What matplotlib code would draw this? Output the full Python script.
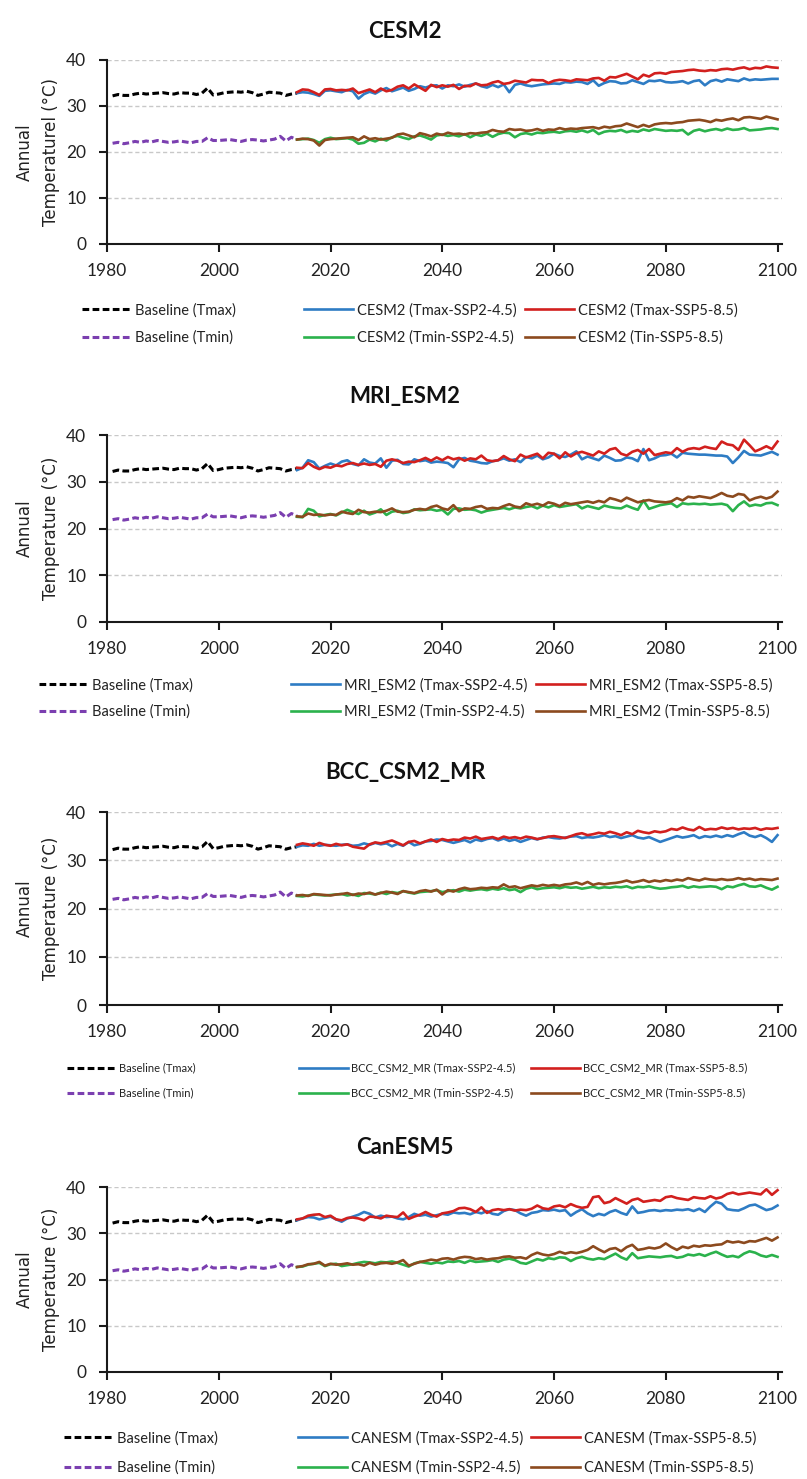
import matplotlib
matplotlib.use("Agg")
from matplotlib import pyplot as plt

plt.rcParams["font.family"] = ["Lato", "DejaVu Sans"]

# ---- data -------------------------------------------------------------
base_years = list(range(1981, 2015))
fut_years = list(range(2014, 2101))

baseline_tmax = [32.2, 32.5, 32.3, 32.3, 32.6, 32.8, 32.6, 32.7, 32.8, 32.9,
                 32.7, 32.6, 32.9, 32.8, 32.8, 32.5, 32.8, 33.9, 32.4, 32.6,
                 32.9, 33.0, 33.1, 33.0, 33.2, 32.9, 32.3, 32.6, 33.0, 32.9,
                 32.8, 32.3, 32.6, 32.8]
baseline_tmin = [21.9, 22.1, 21.8, 22.0, 22.3, 22.1, 22.4, 22.2, 22.5, 22.3,
                 22.1, 22.2, 22.4, 22.2, 22.0, 22.3, 22.3, 23.1, 22.5, 22.5,
                 22.6, 22.7, 22.5, 22.3, 22.6, 22.7, 22.6, 22.4, 22.6, 22.8,
                 23.4, 22.4, 23.2, 22.7]

# CESM2, 2014-2100
cesm_tmax_245 = [32.8, 33.0, 32.9, 32.6, 32.2, 33.3,
                 33.4, 33.2, 33.0, 33.5, 33.2, 31.6, 32.6, 33.1, 32.7, 33.4,
                 33.9, 33.2, 33.6, 34.0, 33.3, 33.7, 34.3, 34.0, 34.4, 34.5,
                 33.8, 34.5, 34.3, 34.7, 34.2, 34.6, 34.9, 34.3, 34.0, 34.6,
                 34.1, 34.7, 33.0, 34.6, 34.9, 34.5, 34.3, 34.5, 34.7, 34.8,
                 34.9, 34.8, 35.2, 35.1, 35.3, 35.2, 34.8, 35.6, 34.4, 35.0,
                 35.4, 35.3, 34.9, 35.0, 35.6, 35.2, 34.8, 35.5, 35.4, 35.6,
                 35.2, 35.1, 35.2, 35.4, 34.9, 35.4, 35.6, 34.5, 35.4, 35.7,
                 35.3, 35.8, 35.6, 35.4, 36.0, 35.6, 35.8, 35.7, 35.8, 35.9,
                 35.9]
cesm_tmax_585 = [33.0, 33.6, 33.5, 33.0, 32.4, 33.6,
                 33.7, 33.4, 33.5, 33.4, 33.8, 32.8, 33.2, 33.6, 33.0, 33.8,
                 33.2, 33.5, 34.2, 34.5, 33.8, 34.7, 34.0, 33.3, 34.6, 34.1,
                 34.5, 34.2, 34.6, 33.7, 34.4, 34.3, 34.9, 34.5, 34.6, 35.1,
                 35.4, 34.8, 35.0, 35.5, 35.3, 35.1, 35.7, 35.6, 35.6, 35.0,
                 35.5, 35.7, 35.6, 35.4, 35.8, 35.7, 35.6, 36.0, 36.1, 35.5,
                 36.3, 36.2, 36.6, 37.0, 36.4, 35.8, 36.8, 36.4, 37.1, 37.2,
                 37.0, 37.4, 37.5, 37.6, 37.8, 37.9, 37.7, 37.6, 37.8, 37.7,
                 38.0, 38.1, 37.9, 38.2, 38.4, 38.0, 38.3, 38.2, 38.6, 38.4,
                 38.3]
cesm_tmin_245 = [22.7, 22.8, 22.9, 22.6, 22.0, 22.8,
                 23.1, 22.8, 22.9, 23.0, 22.7, 21.8, 22.0, 22.7, 22.3, 22.9,
                 22.5, 23.2, 23.5, 23.1, 22.8, 23.4, 23.6, 23.2, 22.7, 23.6,
                 23.8, 23.5, 23.7, 23.4, 23.9, 23.2, 23.8, 23.5, 24.0, 23.3,
                 23.9, 24.2, 24.1, 23.2, 23.9, 24.1, 23.8, 24.2, 24.1, 24.3,
                 24.4, 24.2, 24.5, 24.6, 24.4, 24.7, 24.3, 24.8, 23.9, 24.4,
                 24.6, 24.5, 24.8, 24.3, 24.6, 24.4, 24.9, 24.6, 25.0, 24.8,
                 24.6, 24.7, 24.6, 24.8, 23.8, 24.6, 24.9, 24.5, 24.8, 25.0,
                 24.7, 25.1, 24.8, 24.9, 25.2, 24.7, 24.8, 24.9, 25.1, 25.2,
                 25.0]
cesm_tmin_585 = [22.7, 22.9, 22.8, 22.5, 21.4, 22.6,
                 22.8, 22.9, 23.0, 23.1, 23.2, 22.6, 23.4, 22.8, 23.0, 22.7,
                 22.9, 23.1, 23.8, 24.0, 23.6, 23.2, 24.1, 23.8, 23.4, 24.0,
                 23.7, 24.2, 23.9, 24.0, 23.8, 24.1, 24.0, 24.2, 24.3, 24.8,
                 24.5, 24.4, 25.0, 24.8, 24.9, 24.6, 24.7, 25.0, 24.6, 24.9,
                 24.8, 25.2, 24.9, 25.1, 25.0, 25.2, 25.3, 25.4, 25.1, 25.5,
                 25.3, 25.6, 25.7, 26.2, 25.8, 25.4, 25.9, 25.5, 26.0, 26.2,
                 26.3, 26.2, 26.4, 26.5, 26.8, 26.9, 27.0, 26.8, 26.5, 27.0,
                 26.8, 27.1, 27.3, 26.9, 27.5, 27.6, 27.4, 27.2, 27.7, 27.4,
                 27.1]

# MRI_ESM2
mri_tmax_245 = [32.5, 33.0, 34.6, 34.2, 32.8, 33.4,
                33.9, 33.5, 34.3, 34.6, 33.8, 33.5, 34.8, 34.1, 33.9, 35.0,
                33.0, 34.5, 34.7, 33.8, 33.7, 34.8, 34.4, 34.6, 34.1, 34.3,
                34.2, 34.0, 33.1, 34.8, 35.1, 34.5, 34.3, 34.0, 33.9, 34.4,
                34.6, 35.0, 34.5, 34.8, 34.2, 35.3, 35.0, 35.6, 34.8, 35.2,
                36.0, 35.5, 35.3, 35.8, 36.5, 34.8, 35.4, 35.0, 34.6, 35.6,
                35.1, 34.5, 34.6, 35.2, 35.0, 34.4, 37.0, 34.6, 35.0, 35.6,
                35.7, 36.0, 35.2, 36.2, 36.0, 35.9, 35.8, 35.8, 35.7, 35.6,
                35.6, 35.4, 34.0, 35.2, 36.6, 35.8, 35.7, 35.6, 36.0, 36.4,
                35.8]
mri_tmax_585 = [33.0, 32.9, 34.0, 33.2, 32.7, 33.2,
                33.0, 33.5, 33.3, 33.8, 34.0, 33.6, 33.9, 33.6, 33.8, 33.2,
                34.5, 34.8, 34.5, 34.0, 34.3, 34.2, 34.6, 35.1, 34.5, 35.2,
                34.6, 35.3, 34.8, 35.1, 34.5, 35.0, 34.8, 35.6, 34.6, 34.4,
                34.6, 35.5, 34.8, 34.4, 35.8, 35.2, 35.6, 36.0, 35.0, 36.2,
                36.0, 35.0, 36.3, 35.4, 36.1, 36.4, 36.0, 35.6, 36.5, 36.0,
                36.9, 37.2, 36.0, 35.6, 36.4, 36.8, 36.0, 37.0, 35.7, 36.0,
                36.3, 36.1, 37.2, 36.4, 37.0, 37.2, 37.0, 37.5, 37.2, 37.0,
                38.6, 38.0, 37.8, 36.8, 39.0, 37.8, 36.5, 37.0, 37.6, 37.0,
                38.6]
mri_tmin_245 = [22.5, 22.4, 24.2, 23.8, 22.6, 22.9,
                23.1, 22.8, 23.4, 24.0, 23.5, 23.1, 23.8, 23.0, 23.4, 24.1,
                22.9, 23.6, 23.8, 23.3, 23.5, 24.1, 23.9, 24.0, 24.1, 23.8,
                24.0, 23.0, 24.2, 24.3, 24.0, 24.1, 23.9, 23.4, 23.8, 24.0,
                24.2, 24.4, 24.1, 24.5, 24.3, 24.6, 24.8, 24.3, 24.9, 24.5,
                25.0, 24.6, 24.8, 25.0, 25.2, 24.3, 24.8, 24.5, 24.2, 24.9,
                24.6, 24.4, 24.3, 24.9, 24.4, 24.0, 26.0, 24.2, 24.6, 25.0,
                25.2, 25.4, 24.6, 25.4, 25.2, 25.3, 25.2, 25.3, 25.1, 25.2,
                25.3, 25.0, 23.7, 25.0, 25.8, 24.8, 25.1, 24.9, 25.4, 25.5,
                25.0]
mri_tmin_585 = [22.6, 22.5, 23.2, 22.9, 23.0, 22.8,
                23.0, 22.9, 23.6, 23.3, 23.1, 24.0, 23.5, 23.4, 23.6, 23.5,
                23.8, 24.3, 23.6, 23.5, 23.6, 24.0, 24.2, 24.0, 24.6, 24.9,
                24.3, 24.0, 25.0, 23.7, 24.3, 24.2, 24.6, 24.8, 24.2, 24.4,
                24.3, 24.8, 25.2, 24.7, 24.5, 25.4, 25.0, 25.3, 24.9, 25.6,
                25.3, 24.8, 25.5, 25.2, 25.4, 25.6, 25.8, 25.5, 25.9, 25.6,
                26.5, 26.2, 25.8, 26.6, 26.1, 25.6, 25.9, 26.1, 25.8, 25.7,
                25.6, 25.8, 26.5, 26.0, 26.8, 26.6, 26.9, 26.7, 26.5, 27.0,
                27.6, 27.0, 26.8, 27.4, 27.2, 26.0, 26.5, 26.8, 26.4, 26.8,
                27.9]

# BCC_CSM2_MR
bcc_tmax_245 = [32.8, 33.1, 33.0, 33.4, 33.0, 33.2,
                33.1, 33.0, 33.2, 33.3, 33.0, 33.1, 33.5, 33.2, 33.6, 33.3,
                33.5, 32.9, 33.4, 33.0, 33.8, 33.1, 33.4, 33.9, 34.0, 34.3,
                34.2, 33.9, 33.6, 33.9, 34.2, 33.7, 34.3, 34.0, 34.4, 34.6,
                34.1, 34.5, 34.0, 34.3, 33.8, 34.2, 34.6, 34.3, 34.7, 34.8,
                34.6, 34.5, 34.7, 34.9, 35.0, 34.6, 34.8, 34.7, 34.9, 35.2,
                34.8, 35.0, 34.6, 34.9, 35.2, 34.7, 34.5, 34.8, 34.3, 33.8,
                34.2, 34.6, 35.0, 34.7, 34.9, 35.2, 34.6, 35.0, 34.8, 35.1,
                34.8, 35.2, 34.9, 35.4, 35.8, 35.1, 34.8, 35.2, 34.6, 33.8,
                35.2]
bcc_tmax_585 = [33.2, 33.5, 33.3, 33.0, 33.6, 33.2,
                33.0, 33.4, 33.1, 33.3, 32.8, 32.6, 32.4, 33.3, 33.7, 33.5,
                33.8, 34.1, 33.6, 33.1, 33.8, 34.0, 33.5, 33.9, 34.3, 33.8,
                34.4, 34.1, 34.3, 34.2, 34.7, 34.5, 34.9, 34.4, 34.6, 34.8,
                34.4, 34.9, 34.6, 34.8, 34.5, 34.9, 34.7, 34.4, 34.6, 34.9,
                35.0, 34.8, 34.6, 35.0, 35.4, 35.6, 35.2, 35.4, 35.7, 35.5,
                35.9, 35.6, 35.2, 35.8, 35.4, 36.1, 35.8, 35.6, 36.0, 35.8,
                36.0, 36.5, 36.3, 36.8, 36.4, 36.2, 36.9, 36.3, 36.5, 36.4,
                36.8, 36.5, 36.7, 36.4, 36.6, 36.5, 36.7, 36.3, 36.6, 36.5,
                36.7]
bcc_tmin_245 = [22.6, 22.5, 22.7, 22.9, 22.8, 22.7,
                22.8, 22.9, 23.0, 22.7, 22.9, 22.6, 23.2, 23.1, 22.9, 23.3,
                23.0, 23.4, 23.2, 23.6, 23.3, 23.1, 23.4, 23.5, 23.6, 23.8,
                23.4, 23.6, 23.8, 23.5, 23.9, 23.7, 23.9, 24.0, 23.8, 24.1,
                23.9, 24.2, 23.8, 24.0, 23.4, 24.1, 24.4, 24.0, 24.2, 24.3,
                24.4, 24.2, 24.5, 24.3, 24.4, 24.1, 24.3, 24.5, 24.2, 24.4,
                24.3, 24.5, 24.4, 24.6, 24.2, 24.5, 24.4, 24.6, 24.3, 24.1,
                24.2, 24.4, 24.5, 24.7, 24.3, 24.6, 24.4, 24.5, 24.6, 24.5,
                24.0, 24.6, 24.4, 24.8, 25.1, 24.6, 24.5, 24.8, 24.3, 23.9,
                24.5]
bcc_tmin_585 = [22.7, 22.8, 22.6, 23.0, 22.9, 22.8,
                22.7, 22.9, 23.0, 23.2, 22.8, 23.1, 23.0, 23.3, 22.9, 23.2,
                23.5, 23.3, 23.0, 23.6, 23.4, 23.2, 23.6, 23.8, 23.5, 23.9,
                22.9, 23.8, 23.5, 24.0, 24.3, 24.0, 24.1, 24.3, 24.2, 24.4,
                24.3, 25.0, 24.4, 24.6, 24.2, 24.5, 24.8, 24.6, 24.9, 24.7,
                24.9, 24.7, 25.0, 25.1, 25.4, 25.0, 25.5, 24.9, 25.2, 25.0,
                25.2, 25.3, 25.5, 25.8, 25.4, 25.6, 25.9, 25.5, 25.8, 25.6,
                25.9, 25.7, 26.0, 25.8, 26.3, 26.0, 25.8, 26.2, 26.0, 25.9,
                26.1, 25.9, 26.0, 26.3, 26.0, 26.2, 25.9, 26.1, 26.0, 25.9,
                26.2]

# CanESM5
can_tmax_245 = [32.8, 33.2, 33.5, 33.4, 33.0, 33.3,
                33.6, 33.0, 32.5, 33.2, 33.6, 34.0, 34.6, 34.2, 33.4, 33.8,
                33.5, 33.6, 33.2, 33.0, 33.5, 34.2, 33.8, 34.0, 33.6, 33.9,
                34.2, 34.0, 34.5, 34.3, 34.4, 34.1, 34.6, 34.3, 34.8, 34.2,
                34.0, 34.8, 35.2, 35.0, 34.3, 33.8, 34.4, 34.6, 35.0, 34.9,
                35.1, 34.8, 35.0, 33.8, 34.6, 35.2, 34.3, 33.7, 34.2, 33.9,
                34.6, 35.0, 34.4, 34.0, 35.8, 34.4, 34.6, 34.9, 35.0, 34.8,
                35.0, 34.9, 35.1, 35.0, 35.2, 34.8, 35.3, 34.6, 35.8, 36.8,
                36.4, 35.2, 35.0, 34.9, 35.4, 36.0, 36.2, 35.6, 35.0, 35.3,
                36.0]
can_tmax_585 = [33.0, 33.2, 33.8, 34.0, 34.1, 33.5,
                33.8, 33.0, 32.8, 33.3, 33.4, 33.2, 32.8, 33.6, 33.5, 33.2,
                33.8, 33.6, 33.5, 34.5, 33.1, 33.6, 34.0, 34.6, 34.0, 33.6,
                34.3, 34.5, 34.8, 35.4, 35.5, 35.2, 34.6, 35.6, 34.4, 35.0,
                35.2, 35.0, 35.2, 34.9, 35.1, 35.0, 35.3, 36.0, 35.4, 35.2,
                35.8, 36.0, 35.6, 36.3, 35.8, 35.5, 35.7, 37.8, 38.0, 36.5,
                36.8, 37.6, 37.0, 36.4, 37.2, 37.5, 36.8, 37.0, 37.2, 37.0,
                37.8, 38.0, 37.6, 37.4, 37.2, 37.8, 37.6, 37.5, 38.0, 37.5,
                37.8, 38.5, 38.8, 38.4, 38.6, 38.8, 38.6, 38.4, 39.5, 38.3,
                39.3]
can_tmin_245 = [22.7, 22.8, 23.2, 23.4, 23.6, 22.9,
                23.3, 23.4, 22.9, 23.1, 23.3, 23.6, 23.8, 23.7, 23.5, 23.8,
                23.7, 23.9, 23.6, 23.2, 22.8, 23.5, 23.8, 23.6, 23.4, 23.7,
                23.5, 23.9, 23.8, 24.0, 23.6, 24.1, 23.8, 23.9, 24.0, 24.2,
                23.8, 24.3, 24.5, 24.2, 23.6, 23.4, 23.9, 24.4, 24.1, 24.6,
                24.4, 24.8, 24.7, 24.0, 24.6, 24.9, 24.5, 24.3, 24.6, 24.4,
                25.0, 25.6, 24.8, 24.3, 25.7, 24.6, 24.8, 25.0, 24.9, 24.8,
                25.0, 25.1, 24.7, 24.9, 25.4, 25.2, 25.5, 25.1, 25.6, 26.0,
                25.4, 24.9, 25.1, 24.8, 25.6, 26.1, 25.8, 25.2, 24.9, 25.3,
                24.9]
can_tmin_585 = [22.7, 22.9, 23.3, 23.4, 23.8, 23.0,
                23.4, 23.2, 23.3, 23.5, 23.2, 23.3, 23.0, 23.6, 23.2, 23.5,
                23.6, 23.4, 23.7, 24.2, 23.0, 23.4, 23.8, 24.0, 24.3, 24.1,
                24.5, 24.6, 24.3, 24.7, 24.9, 24.8, 24.4, 24.6, 24.3, 24.5,
                24.6, 24.9, 25.0, 24.7, 24.8, 24.5, 25.3, 25.8, 25.4, 25.2,
                25.5, 26.0, 25.6, 25.9, 25.7, 26.0, 26.4, 27.2, 26.5, 25.9,
                26.6, 26.8, 26.1, 27.0, 27.5, 26.4, 26.6, 26.9, 26.7, 27.0,
                27.8, 27.0, 26.4, 27.1, 26.8, 27.3, 27.1, 27.4, 27.3, 27.5,
                27.6, 28.3, 28.0, 28.2, 27.9, 28.3, 28.2, 28.6, 29.0, 28.4,
                29.1]

panel_titles = ["CESM2", "MRI_ESM2", "BCC_CSM2_MR", "CanESM5"]
legend_names = ["CESM2", "MRI_ESM2", "BCC_CSM2_MR", "CANESM"]
ylabels = ["Annual\nTemperaturel (°C)", "Annual\nTemperature (°C)",
           "Annual\nTemperature (°C)", "Annual\nTemperature (°C)"]
yticks = [0, 10, 20, 30, 40]
xticks = [1980, 2000, 2020, 2040, 2060, 2080, 2100]

series = [
    (cesm_tmax_245, cesm_tmax_585, cesm_tmin_245, cesm_tmin_585),
    (mri_tmax_245, mri_tmax_585, mri_tmin_245, mri_tmin_585),
    (bcc_tmax_245, bcc_tmax_585, bcc_tmin_245, bcc_tmin_585),
    (can_tmax_245, can_tmax_585, can_tmin_245, can_tmin_585),
]
tmin585_tags = ["Tin-SSP5-8.5", "Tmin-SSP5-8.5", "Tmin-SSP5-8.5", "Tmin-SSP5-8.5"]

# ---- layout (pixels of the 807x1479 canvas) ---------------------------
W, H = 807, 1479
axes_px = [(60, 244), (435, 622), (812, 1005), (1187, 1372)]   # top, bottom
title_y = [31, 397, 773, 1148]
legend_rows = [(310, 338), (685, 712), (1068, 1093), (1438, 1468)]
legend_cols = [(82, 304, 525), (39, 291, 536), (67, 299, 531), (64, 298, 531)]
legend_fs = [10.5, 10.5, 8, 10.5]

C_BLUE = "#2E7CC4"
C_RED = "#D2201E"
C_GREEN = "#2BB24C"
C_BROWN = "#8C4A1E"
C_PURPLE = "#7B3FB0"
DASH = (0, (2.2, 1.1))

fig = plt.figure(figsize=(W / 100, H / 100), dpi=100)

for i in range(4):
    top, bot = axes_px[i]
    ax = fig.add_axes([107 / W, 1 - bot / H, (782 - 107) / W, (bot - top) / H])
    tmax245, tmax585, tmin245, tmin585 = series[i]
    name = legend_names[i]

    h_bx, = ax.plot(base_years, baseline_tmax, color="black", lw=2.2, ls=DASH)
    h_bn, = ax.plot(base_years, baseline_tmin, color=C_PURPLE, lw=2.2, ls=DASH)
    h_x245, = ax.plot(fut_years, tmax245, color=C_BLUE, lw=1.9)
    h_x585, = ax.plot(fut_years, tmax585, color=C_RED, lw=1.9)
    h_n245, = ax.plot(fut_years, tmin245, color=C_GREEN, lw=1.9)
    h_n585, = ax.plot(fut_years, tmin585, color=C_BROWN, lw=1.9)

    ax.set_xlim(1980, 2100.8)
    ax.set_ylim(0, 40)
    ax.set_xticks(xticks)
    ax.set_yticks(yticks)
    ax.grid(axis="y", color="#C8C8C8", ls=(0, (3, 2)), lw=1.0)
    ax.set_axisbelow(True)
    for s in ("top", "right"):
        ax.spines[s].set_visible(False)
    for s in ("left", "bottom"):
        ax.spines[s].set_linewidth(1.5)
        ax.spines[s].set_color("#1a1a1a")
    ax.tick_params(axis="both", labelsize=12.5, width=1.5, length=6,
                   color="#1a1a1a", labelcolor="#222222")
    ax.tick_params(axis="y", pad=9)
    ax.tick_params(axis="x", pad=8)

    ax.set_ylabel(ylabels[i], fontsize=12, family=["DejaVu Sans"],
                  linespacing=1.55, color="#222222")
    ax.yaxis.set_label_coords(-0.07, 0.5)

    fig.text(0.502, 1 - title_y[i] / H, panel_titles[i], ha="center",
             va="center", fontsize=16, fontweight="bold", color="#111111")

    # three legend columns, two rows each
    r1, r2 = legend_rows[i]
    ycen = 1 - (r1 + r2) / 2 / H
    fs = legend_fs[i]
    spacing = ((r2 - r1) - fs * 1.39) / (fs * 1.39)
    cols = [
        ([h_bx, h_bn], ["Baseline (Tmax)", "Baseline (Tmin)"]),
        ([h_x245, h_n245], [f"{name} (Tmax-SSP2-4.5)", f"{name} (Tmin-SSP2-4.5)"]),
        ([h_x585, h_n585], [f"{name} (Tmax-SSP5-8.5)", f"{name} ({tmin585_tags[i]})"]),
    ]
    for (handles, labels), x0 in zip(cols, legend_cols[i]):
        fig.legend(handles, labels, loc="center left",
                   bbox_to_anchor=(x0 / W, ycen), frameon=False,
                   fontsize=fs, handlelength=49 / (fs * 1.39),
                   handletextpad=0.25, borderpad=0, borderaxespad=0,
                   labelspacing=spacing, labelcolor="#222222")

fig.savefig("out.png", dpi=100)
